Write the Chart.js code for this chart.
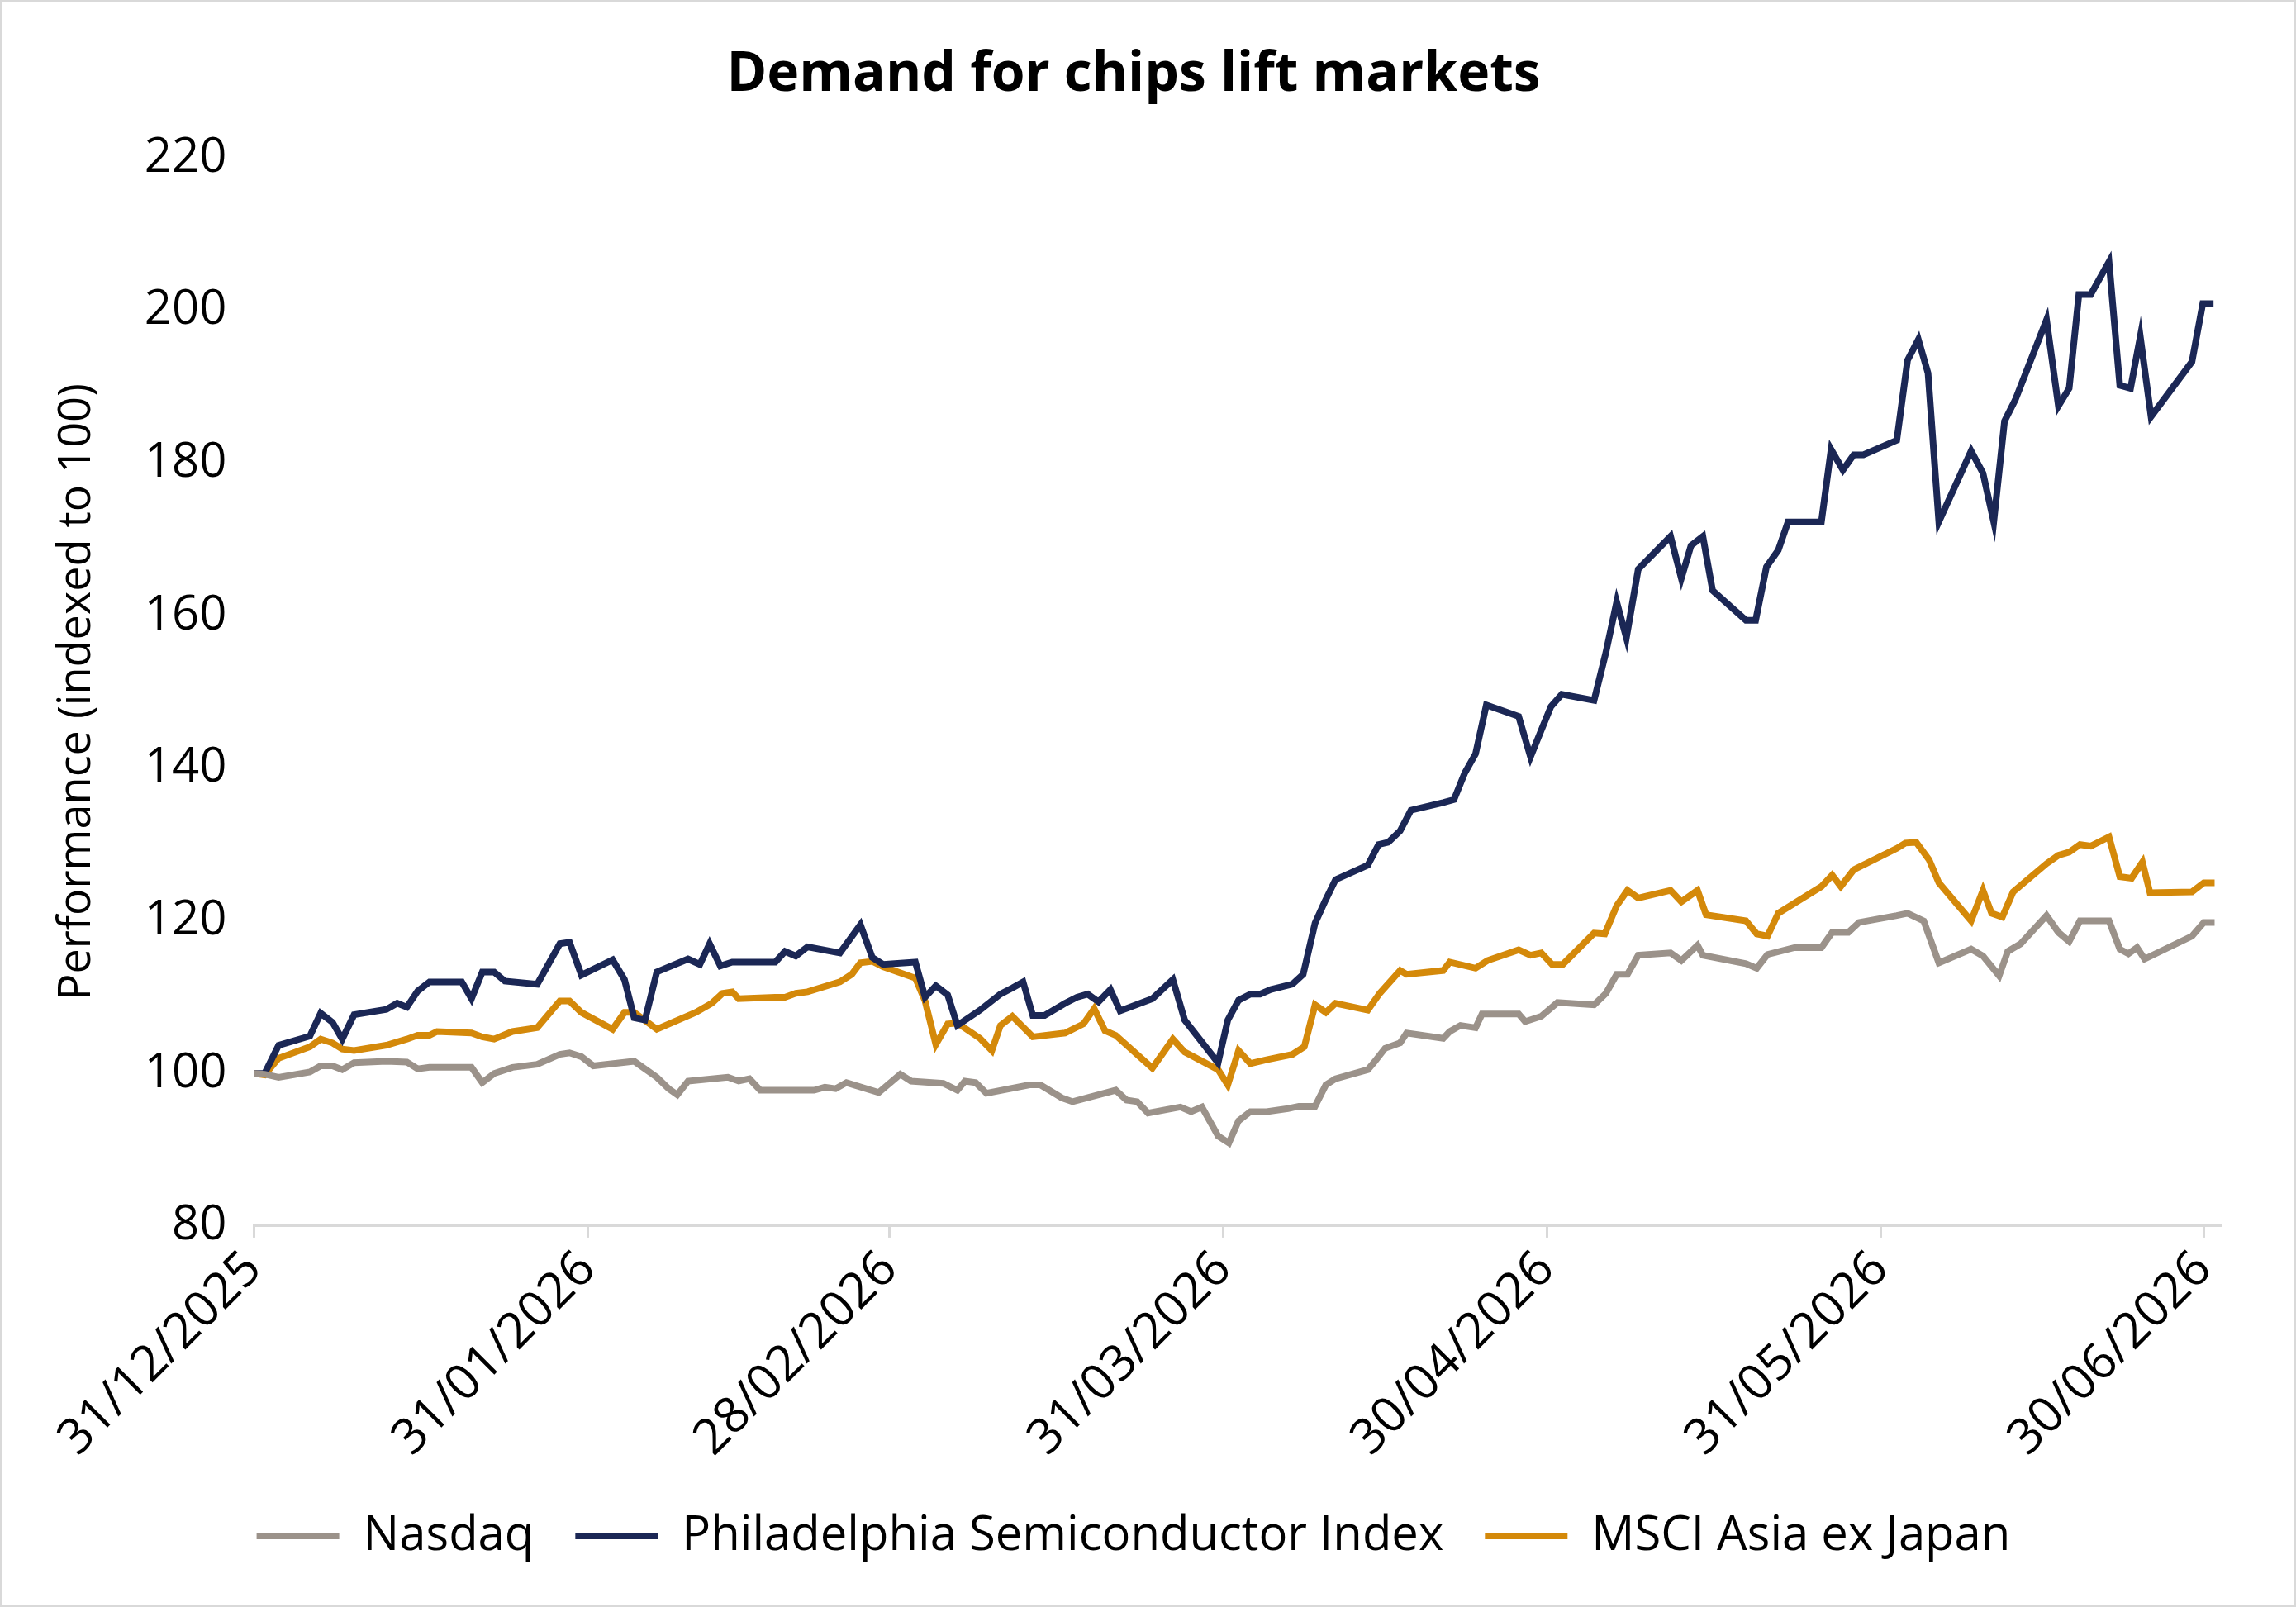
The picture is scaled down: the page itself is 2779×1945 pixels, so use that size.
<!DOCTYPE html>
<html>
<head>
<meta charset="utf-8">
<script src="https://cdn.jsdelivr.net/npm/chart.js@4.4.1/dist/chart.umd.min.js"></script>
<style>
  html, body { margin: 0; padding: 0; background: #fff; }
  #wrap { position: absolute; left: 0; top: 0; width: 2775px; height: 1941px; border: 2px solid #d9d9d9; }
</style>
</head>
<body>
<div id="wrap"><canvas id="chart"></canvas></div>
<script>
// days since 31/12/2025
const tickDays = [0, 31, 59, 90, 120, 151, 181];
const tickLabels = ['31/12/2025', '31/01/2026', '28/02/2026', '31/03/2026', '30/04/2026', '31/05/2026', '30/06/2026'];

const soxDays = [0,1,2.3,5.2,6.2,7.3,8.2,9.3,12.3,13.3,14.2,15.2,16.3,19.3,20.2,21.2,22.3,23.3,26.3,28.4,29.3,30.4,33.3,34.4,35.3,36.3,37.4,40.3,41.4,42.3,43.3,44.4,48.4,49.3,50.3,51.4,54.4,56.3,57.4,58.4,61.4,62.3,63.3,64.4,65.3,67.4,69.3,70.4,71.4,72.3,73.4,75.3,76.4,77.4,78.4,79.5,80.4,83.4,85.3,86.4,89.5,90.4,91.4,92.5,93.4,94.4,96.4,97.4,98.5,99.4,100.4,103.4,104.4,105.3,106.4,107.4,110.4,111.4,112.4,113.4,114.4,117.4,118.5,119.5,120.4,121.4,124.4,125.5,126.5,127.4,128.5,131.5,132.5,133.4,134.5,135.4,138.5,139.4,140.4,141.5,142.4,145.5,146.4,147.5,148.5,149.4,152.5,153.5,154.5,155.4,156.4,159.4,160.5,161.5,162.5,163.5,166.4,167.5,168.5,169.4,170.5,172.2,173.2,174.2,175.1,176.1,179.9,180.9,181.9];
const soxValues = [100,100,103.7,104.9,107.9,106.7,104.5,107.7,108.4,109.2,108.7,110.8,112,112,109.8,113.3,113.3,112.1,111.7,117,117.2,112.9,114.9,112.3,107.3,107,113.3,115,114.3,117,114.1,114.6,114.6,116,115.4,116.6,115.8,119.5,115.2,114.3,114.6,110,111.5,110.3,106.3,108.3,110.4,111.2,112,107.6,107.6,109.2,110,110.4,109.4,111,108.2,109.8,112.3,107,101.4,107,109.6,110.4,110.4,111,111.7,113,119.7,122.5,125.4,127.3,130,130.3,131.8,134.5,135.5,135.9,139.4,141.9,148.3,146.8,141.5,145,148.1,149.7,148.9,155.2,161.8,157.1,166.1,170.4,164.9,169.2,170.4,163.3,159.4,159.4,166.4,168.6,172.3,172.3,181.8,179.1,181.1,181.1,183,193.5,196.2,191.8,172.3,181.6,178.7,172.3,185.5,188.3,198.8,187.5,189.8,202.1,202.1,206.4,190.2,189.8,196.6,186.1,193.3,200.9,200.9];

const nasdaqDays = [0,1,2.3,5.2,6.2,7.3,8.2,9.3,12.3,14.2,15.2,16.3,20.2,21.2,22.3,24,26.3,28.4,29.3,30.4,31.5,35.3,37.4,38.5,39.3,40.3,44,45,46,47,52,53,54,55,58,60,61,64,65.3,66,67,68,72,73,75,76,80,81,82,83,86,87,88,89.5,90.5,91.4,92.5,94,96,97,98.5,99.5,100.4,103.4,104,105,106.4,107,110.4,111,112,113.4,114,117.4,118,119.5,121,124.4,125.5,126.5,127.5,128.5,131.5,132.5,134,134.5,138.5,139.5,140.5,143,145.5,146.5,148,149,152.5,153.5,155,156.4,159.4,160.5,162,162.8,164,166.4,167.5,168.5,169.5,172.2,173.2,174,174.8,175.5,179.9,181,182];
const nasdaqValues = [100,99.9,99.5,100.2,101,101,100.5,101.4,101.6,101.5,100.6,100.8,100.8,98.8,100,100.8,101.2,102.5,102.7,102.2,101,101.6,99.5,98,97.2,99,99.5,99,99.3,97.8,97.8,98.2,98,98.8,97.5,99.9,99,98.7,97.8,99,98.8,97.4,98.5,98.5,96.8,96.3,97.8,96.5,96.3,94.8,95.6,95,95.6,91.8,90.9,93.8,95,95,95.4,95.7,95.7,98.5,99.3,100.5,101.5,103.3,104,105.3,104.6,105.5,106.3,106,107.8,107.8,106.8,107.5,109.3,109,110.5,113,113,115.5,115.8,114.8,116.8,115.5,114.4,113.8,115.6,116.5,116.5,118.5,118.5,119.8,120.7,121,120,114.5,116.3,115.4,112.8,116,117,120.7,118.5,117.3,120,120,116.3,115.7,116.5,115,118,119.8,119.8];

const msciDays = [0,1,2.3,5.2,6.2,7.3,8.2,9.3,12.3,14.2,15.2,16.3,17,20.2,21.2,22.3,24,26.3,28.4,29.3,30.4,33.3,34.4,35.3,37.4,41,42.5,43.5,44.4,45,48.4,49.3,50.3,51.4,54.4,55.5,56.3,57.4,58.4,61.4,62.3,63.3,64.4,65.3,67.4,68.5,69.3,70.4,72.3,75.3,77,78,79,80,83.4,85.3,86.4,89.5,90.4,91.4,92.5,94,96.4,97.5,98.5,99.5,100.4,103.4,104.5,106.4,107,110.4,111,113.4,114.5,117.4,118.5,119.5,120.5,121.5,124.4,125.4,126.5,127.5,128.5,131.5,132.5,134,134.8,138.5,139.5,140.5,141.5,145.5,146.5,147.3,148.5,152.5,153.3,154.3,155.5,156.4,159.4,160.5,161.3,162.3,163.3,166.4,167.5,168.5,169.5,170.5,172.2,173.2,174.3,175.3,176,179.9,181,182];
const msciValues = [100,99.8,102,103.5,104.5,104,103.2,103,103.7,104.5,105,105,105.5,105.3,104.8,104.5,105.5,106,109.5,109.5,108,105.8,108,108,105.8,108,109.2,110.5,110.7,109.8,110,110,110.5,110.7,112,113,114.5,114.7,114,112.5,109.5,103.8,106.5,106.6,104.6,103,106.3,107.5,104.8,105.3,106.5,108.5,105.6,105,100.7,104.5,102.8,100.5,98.5,103,101.3,101.8,102.5,103.5,109,108,109.2,108.3,110.5,113.5,113,113.5,114.6,113.8,114.8,116.2,115.5,115.8,114.3,114.3,118.4,118.3,122,124,123,124,122.5,124,120.8,120,118.3,118,121,124.5,126,124.5,126.7,129.5,130.2,130.3,128,125,120,124,121,120.5,123.8,127.5,128.6,129,130,129.8,131,125.8,125.6,127.7,123.7,123.8,125,125];

const toPoints = (days, vals) => days.map((d, i) => ({ x: d, y: vals[i] }));
const FONT = '"Open Sans", "Noto Sans", sans-serif';

new Chart(document.getElementById('chart'), {
    type: 'line',
    data: {
        datasets: [
            { label: 'Nasdaq', data: toPoints(nasdaqDays, nasdaqValues), borderColor: '#9b928a', backgroundColor: '#9b928a', borderWidth: 8, pointRadius: 0, tension: 0 },
            { label: 'Philadelphia Semiconductor Index', data: toPoints(soxDays, soxValues), borderColor: '#1b2755', backgroundColor: '#1b2755', borderWidth: 8, pointRadius: 0, tension: 0 },
            { label: 'MSCI Asia ex Japan', data: toPoints(msciDays, msciValues), borderColor: '#d4890a', backgroundColor: '#d4890a', borderWidth: 8, pointRadius: 0, tension: 0 }
        ]
    },
    options: {
        responsive: true,
        maintainAspectRatio: false,
        animation: false,
        layout: { padding: { left: 55, right: 90, top: 40, bottom: 45 } },
        plugins: {
            title: { display: true, text: 'Demand for chips lift markets', color: '#000', font: { family: FONT, size: 66, weight: 'bold' }, padding: { top: 10, bottom: 60 } },
            legend: {
                position: 'bottom',
                labels: { color: '#000', font: { family: FONT, size: 58 }, usePointStyle: true, pointStyle: 'line', pointStyleWidth: 100, boxHeight: 8, padding: 50 }
            },
            tooltip: { enabled: false }
        },
        scales: {
            x: {
                type: 'linear', min: 0, max: 182.5,
                afterBuildTicks: axis => { axis.ticks = tickDays.map(v => ({ value: v })); },
                ticks: {
                    color: '#000', font: { family: FONT, size: 60 }, maxRotation: 45, minRotation: 45, autoSkip: false,
                    callback: v => tickLabels[tickDays.indexOf(v)]
                },
                grid: { display: true, drawOnChartArea: false, drawTicks: true, tickLength: 14, color: '#d9d9d9', lineWidth: 3 },
                border: { color: '#d9d9d9', width: 3 }
            },
            y: {
                min: 80, max: 220,
                ticks: { stepSize: 20, color: '#000', font: { family: FONT, size: 58 }, padding: 25 },
                grid: { display: false },
                border: { display: false },
                title: { display: true, text: 'Performance (indexed to 100)', color: '#000', font: { family: FONT, size: 54 }, padding: { bottom: 24 } }
            }
        }
    }
});
</script>
</body>
</html>
